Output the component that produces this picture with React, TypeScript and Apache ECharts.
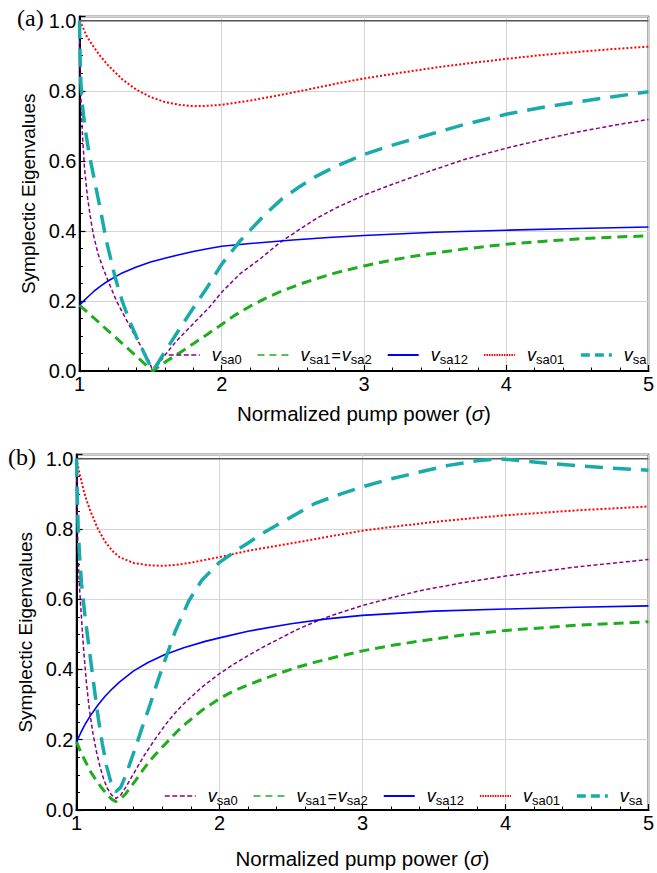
import React, { useEffect, useRef } from 'react';
import * as echarts from 'echarts';

// ---------- data ----------
const xTicks = [1, 2, 3, 4, 5];
const yTicks = [0, 0.2, 0.4, 0.6, 0.8, 1.0];
const refLevel = 1.0;

// panel (a)
const aSa0: [number, number][] = [[1,1],[1.004,0.88],[1.01,0.78],[1.02,0.68],[1.035,0.58],[1.055,0.5],[1.08,0.43],[1.1,0.385],[1.13,0.335],[1.16,0.3],[1.2,0.258],[1.26,0.2],[1.33,0.146],[1.39,0.1],[1.45,0.058],[1.49,0.028],[1.515,0],[1.56,0.022],[1.6,0.045],[1.68,0.085],[1.8,0.135],[1.915,0.183],[2,0.225],[2.13,0.278],[2.26,0.317],[2.42,0.37],[2.55,0.405],[2.66,0.434],[2.8,0.465],[3,0.502],[3.2,0.533],[3.4,0.562],[3.7,0.603],[4,0.636],[4.25,0.66],[4.5,0.682],[4.75,0.701],[5,0.718]];
const aSa1: [number, number][] = [[1,0.188],[1.1,0.152],[1.2,0.115],[1.3,0.079],[1.4,0.042],[1.515,0],[1.6,0.025],[1.7,0.051],[1.8,0.078],[1.9,0.105],[2,0.133],[2.1,0.161],[2.2,0.185],[2.3,0.206],[2.42,0.228],[2.55,0.248],[2.66,0.263],[2.8,0.28],[3,0.3],[3.2,0.317],[3.4,0.331],[3.7,0.348],[4,0.362],[4.25,0.37],[4.5,0.377],[4.75,0.382],[5,0.386]];
const aSa12: [number, number][] = [[1,0.188],[1.03,0.2],[1.06,0.212],[1.1,0.227],[1.15,0.243],[1.2,0.257],[1.3,0.28],[1.4,0.297],[1.5,0.311],[1.6,0.322],[1.7,0.332],[1.8,0.341],[1.9,0.349],[2,0.356],[2.2,0.364],[2.5,0.374],[2.75,0.381],[3,0.387],[3.5,0.396],[4,0.402],[4.5,0.407],[5,0.411]];
const aSa01: [number, number][] = [[1,1],[1.02,0.985],[1.05,0.956],[1.1,0.925],[1.15,0.897],[1.2,0.873],[1.3,0.833],[1.4,0.803],[1.5,0.782],[1.6,0.768],[1.7,0.76],[1.8,0.756],[1.9,0.757],[2,0.76],[2.2,0.772],[2.4,0.787],[2.6,0.803],[2.8,0.82],[3,0.835],[3.25,0.851],[3.5,0.866],[3.75,0.879],[4,0.891],[4.25,0.902],[4.5,0.911],[4.75,0.919],[5,0.926]];
const aSa: [number, number][] = [[1,1],[1.004,0.9],[1.01,0.82],[1.02,0.76],[1.04,0.69],[1.07,0.615],[1.1,0.555],[1.14,0.475],[1.19,0.37],[1.25,0.268],[1.3,0.2],[1.35,0.145],[1.4,0.098],[1.45,0.055],[1.485,0.025],[1.515,0],[1.55,0.022],[1.6,0.055],[1.7,0.118],[1.8,0.18],[1.9,0.24],[2,0.305],[2.13,0.372],[2.3,0.445],[2.42,0.49],[2.55,0.527],[2.66,0.555],[2.8,0.584],[3,0.618],[3.2,0.645],[3.4,0.668],[3.7,0.703],[4,0.733],[4.25,0.752],[4.5,0.768],[4.75,0.783],[5,0.797]];

// panel (b)
const bSa0: [number, number][] = [[1,1],[1.004,0.88],[1.01,0.75],[1.02,0.64],[1.035,0.545],[1.05,0.455],[1.07,0.36],[1.09,0.285],[1.115,0.218],[1.14,0.165],[1.165,0.122],[1.19,0.088],[1.215,0.062],[1.245,0.043],[1.277,0.033],[1.31,0.043],[1.346,0.066],[1.38,0.09],[1.416,0.115],[1.47,0.153],[1.53,0.19],[1.59,0.225],[1.647,0.256],[1.7,0.281],[1.762,0.307],[1.878,0.35],[2,0.388],[2.1,0.415],[2.206,0.441],[2.32,0.467],[2.44,0.492],[2.55,0.515],[2.67,0.536],[2.8,0.556],[3,0.582],[3.2,0.604],[3.4,0.624],[3.7,0.647],[4,0.666],[4.5,0.692],[5,0.713]];
const bSa1: [number, number][] = [[1,0.194],[1.035,0.16],[1.07,0.132],[1.1,0.108],[1.14,0.083],[1.18,0.061],[1.21,0.046],[1.245,0.031],[1.277,0.024],[1.31,0.032],[1.346,0.047],[1.38,0.066],[1.416,0.086],[1.47,0.117],[1.53,0.148],[1.59,0.175],[1.647,0.199],[1.7,0.222],[1.762,0.245],[1.878,0.284],[2,0.317],[2.1,0.339],[2.206,0.357],[2.32,0.375],[2.44,0.392],[2.55,0.407],[2.67,0.421],[2.8,0.434],[3,0.453],[3.2,0.468],[3.4,0.481],[3.7,0.498],[4,0.511],[4.5,0.526],[5,0.536]];
const bSa12: [number, number][] = [[1,0.194],[1.03,0.22],[1.06,0.244],[1.1,0.27],[1.15,0.299],[1.2,0.324],[1.25,0.345],[1.3,0.364],[1.4,0.396],[1.5,0.42],[1.615,0.442],[1.75,0.462],[1.9,0.48],[2,0.49],[2.2,0.509],[2.5,0.53],[2.75,0.544],[3,0.554],[3.5,0.566],[4,0.572],[4.5,0.577],[5,0.581]];
const bSa01: [number, number][] = [[1,1],[1.02,0.96],[1.05,0.91],[1.07,0.882],[1.1,0.848],[1.15,0.8],[1.2,0.764],[1.25,0.738],[1.3,0.72],[1.4,0.703],[1.5,0.697],[1.6,0.695],[1.7,0.698],[1.8,0.704],[1.9,0.712],[2,0.72],[2.2,0.738],[2.4,0.752],[2.6,0.766],[2.8,0.781],[3,0.795],[3.25,0.808],[3.5,0.82],[3.75,0.83],[4,0.839],[4.5,0.853],[5,0.864]];
const bSa: [number, number][] = [[1,1],[1.005,0.9],[1.012,0.8],[1.022,0.72],[1.035,0.645],[1.06,0.55],[1.09,0.455],[1.12,0.36],[1.15,0.268],[1.18,0.19],[1.21,0.125],[1.24,0.08],[1.275,0.052],[1.31,0.065],[1.346,0.1],[1.38,0.14],[1.416,0.182],[1.46,0.236],[1.508,0.292],[1.55,0.345],[1.6,0.405],[1.69,0.508],[1.785,0.595],[1.878,0.655],[2,0.705],[2.13,0.742],[2.2,0.76],[2.3,0.787],[2.44,0.82],[2.67,0.873],[2.85,0.9],[3,0.92],[3.2,0.943],[3.4,0.962],[3.6,0.981],[3.8,0.994],[3.95,1.0],[4.1,0.995],[4.3,0.987],[4.5,0.98],[4.75,0.973],[5,0.967]];

const seriesKeys = ['sa0', 'sa1', 'sa12', 'sa01', 'sa'];
const legendLabels: Record<string, string> = {
  sa0: '{f|v}{s|sa0}',
  sa1: '{f|v}{s|sa1}{e|=}{v|v}{s|sa2}',
  sa12: '{f|v}{s|sa12}',
  sa01: '{f|v}{s|sa01}',
  sa: '{f|v}{s|sa}',
};

const FONT = "'Liberation Sans', Arial, Helvetica, sans-serif";
const SERIF = "'Liberation Serif', 'Times New Roman', serif";

const lineStyles: Record<string, any> = {
  sa0: { color: '#880088', width: 1.5, type: [4, 2.5] },
  sa1: { color: '#1fad1f', width: 3, type: [10, 6] },
  sa12: { color: '#0000ff', width: 1.6, type: 'solid' },
  sa01: { color: '#ff0000', width: 2, type: [2, 2] },
  sa: { color: '#19abab', width: 3.5, type: [18, 10] },
};
const legendLineStyles: Record<string, any> = {
  sa0: { width: 1.5, type: [5, 2.5] },
  sa1: { width: 1.5, type: [7, 5] },
  sa12: { width: 2, type: 'solid' },
  sa01: { width: 2, type: [1.5, 1] },
  sa: { width: 3.5, type: [9, 5] },
};

const panels = [
  { data: { sa0: aSa0, sa1: aSa1, sa12: aSa12, sa01: aSa01, sa: aSa }, left: 79.5, top: 16.5, height: 354.5, legendLeft: 163, legendTop: 341, xNameGap: 32, label: '(a)', labelLeft: 17, labelTop: 6 },
  { data: { sa0: bSa0, sa1: bSa1, sa12: bSa12, sa01: bSa01, sa: bSa }, left: 76.5, top: 454.5, height: 355.5, legendLeft: 159, legendTop: 782, xNameGap: 38, label: '(b)', labelLeft: 8, labelTop: 445 },
];

export default function App() {
  const ref = useRef<HTMLDivElement>(null);
  useEffect(() => {
    document.body.style.margin = '0';
    const chart = echarts.init(ref.current!, null, { renderer: 'svg' });
    const yMax = yTicks[yTicks.length - 1] + 0.012;
    const grids: any[] = [];
    const xAxes: any[] = [];
    const yAxes: any[] = [];
    const series: any[] = [];
    const legends: any[] = [];
    const graphics: any[] = [];

    panels.forEach((p, i) => {
      grids.push({ left: p.left, right: 4.5, top: p.top, height: p.height, show: true, borderColor: '#000', borderWidth: 1.5, backgroundColor: 'transparent' });
      xAxes.push({
        gridIndex: i, type: 'value', min: xTicks[0], max: xTicks[xTicks.length - 1], interval: xTicks[1] - xTicks[0],
        axisLine: { show: true, onZero: false, lineStyle: { color: '#000', width: 2 } },
        axisTick: { show: true, inside: true, length: 6, lineStyle: { color: '#000', width: 1.2 } },
        minorTick: { show: true, splitNumber: 5, length: 3.5, lineStyle: { color: '#000', width: 1 } },
        axisLabel: { fontSize: 20, color: '#000', fontFamily: FONT, margin: 3 },
        splitLine: { show: true, lineStyle: { color: '#d4d4d4', width: 1 } },
        name: 'Normalized pump power ({i|σ})', nameLocation: 'middle', nameGap: p.xNameGap,
        nameTextStyle: { fontSize: 20.5, color: '#000', fontFamily: FONT, rich: { i: { fontSize: 20.5, fontStyle: 'italic', color: '#000', fontFamily: FONT } } },
      });
      yAxes.push({
        gridIndex: i, type: 'value', min: yTicks[0], max: yMax, interval: yTicks[1] - yTicks[0],
        axisLine: { show: true, onZero: false, lineStyle: { color: '#000', width: 2 } },
        axisTick: { show: true, inside: true, length: 6, lineStyle: { color: '#000', width: 1.2 } },
        minorTick: { show: true, splitNumber: 4, length: 3.5, lineStyle: { color: '#000', width: 1 } },
        axisLabel: { fontSize: 20, color: '#000', fontFamily: FONT, margin: 3, showMaxLabel: false, formatter: (v: number) => v.toFixed(1) },
        splitLine: { show: true, lineStyle: { color: '#d4d4d4', width: 1 } },
        name: 'Symplectic Eigenvalues', nameLocation: 'middle', nameGap: 38,
        nameTextStyle: { fontSize: 19, color: '#000', fontFamily: FONT },
      });
      series.push({
        type: 'line', name: 'ref' + i, xAxisIndex: i, yAxisIndex: i, silent: true,
        data: [[xTicks[0], refLevel], [xTicks[xTicks.length - 1], refLevel]],
        symbol: 'none', lineStyle: { color: '#555', width: 1.5 }, z: 1,
      });
      seriesKeys.forEach((k) => {
        series.push({
          type: 'line', name: k, xAxisIndex: i, yAxisIndex: i,
          data: (p.data as any)[k], symbol: 'none', showSymbol: false,
          smooth: false,
          color: lineStyles[k].color, lineStyle: lineStyles[k], z: 3,
        });
      });
      legends.push({
        left: p.legendLeft, top: p.legendTop, orient: 'horizontal',
        itemWidth: 31, itemHeight: 12, itemGap: 15, selectedMode: false,
        itemStyle: { opacity: 0 },
        data: seriesKeys.map((k) => ({ name: k, lineStyle: legendLineStyles[k] })),
        formatter: (n: string) => legendLabels[n],
        textStyle: {
          color: '#000', fontFamily: FONT,
          rich: {
            f: { fontSize: 18, fontStyle: 'italic', fontFamily: FONT, color: '#000', lineHeight: 22, verticalAlign: 'middle', padding: [0, 0, 0, 7] },
            v: { fontSize: 18, fontStyle: 'italic', fontFamily: FONT, color: '#000', lineHeight: 22, verticalAlign: 'middle' },
            s: { fontSize: 13, fontFamily: FONT, color: '#000', lineHeight: 13, verticalAlign: 'bottom' },
            e: { fontSize: 16, fontFamily: FONT, color: '#000', lineHeight: 22, verticalAlign: 'middle', padding: [0, 1, 0, 1] },
          },
        },
      });
      graphics.push({ type: 'text', left: p.labelLeft, top: p.labelTop, style: { text: p.label, font: `24px ${SERIF}`, fill: '#000' } });
    });

    chart.setOption({
      animation: false,
      backgroundColor: '#fff',
      grid: grids, xAxis: xAxes, yAxis: yAxes, series, legend: legends, graphic: graphics,
    });
    return () => chart.dispose();
  }, []);
  return <div ref={ref} style={{ position: 'absolute', left: 0, top: 0, width: 657, height: 873 }} />;
}
